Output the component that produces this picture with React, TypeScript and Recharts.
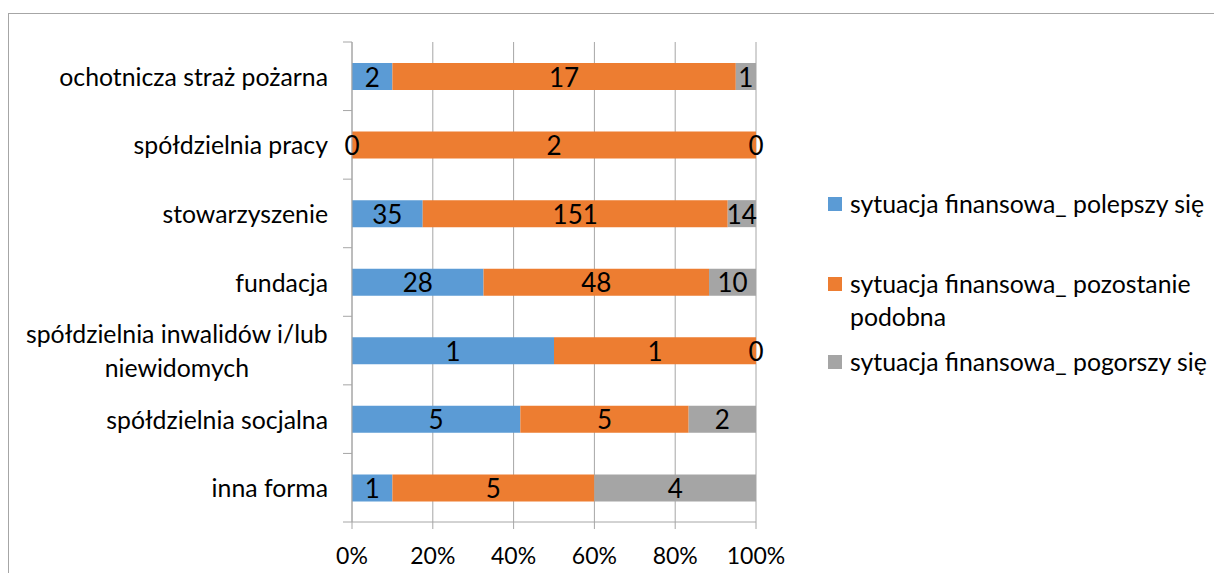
import React from "react";
import { BarChart, Bar, XAxis, YAxis, CartesianGrid, LabelList, Legend } from "recharts";

const categories = [
  "ochotnicza straż pożarna",
  "spółdzielnia pracy",
  "stowarzyszenie",
  "fundacja",
  "spółdzielnia inwalidów i/lub niewidomych",
  "spółdzielnia socjalna",
  "inna forma",
];
const polepszy = [2, 0, 35, 28, 1, 5, 1];
const pozostanie = [17, 2, 151, 48, 1, 5, 5];
const pogorszy = [1, 0, 14, 10, 0, 2, 4];

const seriesNames = [
  "sytuacja finansowa_ polepszy się",
  "sytuacja finansowa_ pozostanie podobna",
  "sytuacja finansowa_ pogorszy się",
];
const colors = ["#5b9bd5", "#ed7d31", "#a5a5a5"];
const xTicks = [0, 0.2, 0.4, 0.6, 0.8, 1];

const data = categories.map((name, i) => ({
  name,
  a: polepszy[i],
  b: pozostanie[i],
  c: pogorszy[i],
}));

const FONT = "Lato, 'Open Sans', sans-serif";
const FS = 24.8;
const AXIS = "#a6a6a6";
const TICK_SIZE = 9;
const TICK_MARGIN = 15;

let ctx: CanvasRenderingContext2D | null = null;
const measure = (s: string, size: number) => {
  if (!ctx) ctx = document.createElement("canvas").getContext("2d");
  if (!ctx) return s.length * size * 0.45;
  ctx.font = `${size}px Lato`;
  return ctx.measureText(s).width;
};

const wrap = (s: string) => {
  if (s.length <= 26) return [s];
  const i = s.lastIndexOf(" ");
  return [s.slice(0, i), s.slice(i + 1)];
};

const CategoryTick = (props: any) => {
  const { x, y, payload, index, visibleTicksCount } = props;
  const half = payload.offset || 34.3;
  const axisX = x + TICK_MARGIN + TICK_SIZE;
  const lines = wrap(payload.value);
  const w = measure(lines[0], FS);
  return (
    <g>
      <line x1={axisX - TICK_SIZE} x2={axisX} y1={y - half} y2={y - half} stroke={AXIS} />
      {index === visibleTicksCount - 1 && (
        <line x1={axisX - TICK_SIZE} x2={axisX} y1={y + half} y2={y + half} stroke={AXIS} />
      )}
      {lines.length === 1 ? (
        <text x={x} y={y} textAnchor="end" dominantBaseline="central" fontSize={FS} fontFamily={FONT} fill="#000">
          {lines[0]}
        </text>
      ) : (
        lines.map((l, k) => (
          <text
            key={k}
            x={x - w / 2}
            y={y + (k - (lines.length - 1) / 2) * 34}
            textAnchor="middle"
            dominantBaseline="central"
            fontSize={FS}
            fontFamily={FONT}
            fill="#000"
          >
            {l}
          </text>
        ))
      )}
    </g>
  );
};

// value labels, drawn also for empty (zero-width) segments
const ValueLabel = (props: any) => {
  const { x, y, width, height, value } = props;
  if (value == null) return null;
  return (
    <text
      x={x + width / 2}
      y={y + height / 2}
      textAnchor="middle"
      dominantBaseline="central"
      fontSize={26}
      fontFamily={FONT}
      fill="#000"
    >
      {value}
    </text>
  );
};

const legendGaps = [0, 47, 12];

const LegendBox = () => (
  <div style={{ fontFamily: FONT, fontSize: FS, color: "#000" }}>
    {seriesNames.map((n, i) => (
      <div key={n} style={{ display: "flex", marginTop: legendGaps[i], lineHeight: "33px" }}>
        <div style={{ width: 14, height: 14, background: colors[i], marginTop: 10, marginRight: 8, flex: "none" }} />
        <div style={{ width: 362 }}>{n}</div>
      </div>
    ))}
  </div>
);

export default function App() {
  return (
    <div style={{ paddingTop: 5 }}>
      <div style={{ borderLeft: `1px solid ${AXIS}`, borderTop: `1px solid ${AXIS}`, width: 1205 }}>
        <BarChart
          width={1205}
          height={559}
          data={data}
          layout="vertical"
          stackOffset="expand"
          margin={{ top: 28, right: 458, bottom: 11, left: 0 }}
          barSize={27}
        >
          <CartesianGrid horizontal={false} stroke={AXIS} />
          <XAxis
            type="number"
            domain={[0, 1]}
            ticks={xTicks}
            tickFormatter={(v: number) => `${Math.round(v * 100)}%`}
            stroke={AXIS}
            tickSize={7}
            tickMargin={19}
            height={40}
            tick={{ fill: "#000", fontSize: 23, fontFamily: FONT }}
          />
          <YAxis
            type="category"
            dataKey="name"
            width={343}
            stroke={AXIS}
            tickLine={false}
            tickSize={TICK_SIZE}
            tickMargin={TICK_MARGIN}
            interval={0}
            tick={<CategoryTick />}
          />
          <Legend
            layout="vertical"
            align="center"
            verticalAlign="middle"
            content={<LegendBox />}
            wrapperStyle={{ left: 819, top: 173, width: 400 }}
          />
          {["a", "b", "c"].map((k, i) => (
            <Bar
              key={k}
              dataKey={k}
              name={seriesNames[i]}
              stackId="s"
              fill={colors[i]}
              minPointSize={0.01}
              isAnimationActive={false}
            >
              <LabelList dataKey={k} content={<ValueLabel />} />
            </Bar>
          ))}
        </BarChart>
      </div>
    </div>
  );
}
